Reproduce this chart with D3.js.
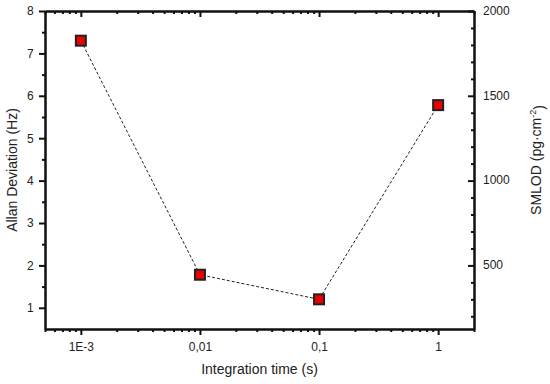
<meta charset="utf-8">
<body style="margin:0"></body>
<script src="https://d3js.org/d3.v7.min.js"></script>
<script>
// integration times and allan deviation values
var times = [0.001, 0.01, 0.1, 1];
var allanDev = [7.3, 1.78, 1.2, 5.78];
var xTickValues = [0.001, 0.01, 0.1, 1];
var xTickLabels = ["1E-3", "0,01", "0,1", "1"];
var yTicks = [1, 2, 3, 4, 5, 6, 7, 8];
var y2Ticks = [500, 1000, 1500, 2000];

var W = 550, H = 384;
var m = {left: 45, right: 76, top: 11, bottom: 55};

var svg = d3.select("body").append("svg")
  .attr("width", W).attr("height", H)
  .style("font-family", "'Liberation Sans', Arial, sans-serif");

var x = d3.scaleLog().domain([0.0005, 2]).range([m.left, W - m.right]);
var y = d3.scaleLinear().domain([0.5, 8]).range([H - m.bottom, m.top]);
var y2 = d3.scaleLinear().domain([125, 2000]).range([H - m.bottom, m.top]);

// minor ticks for log axis
var xMinor = [];
[0.0001, 0.001, 0.01, 0.1, 1].forEach(function(d) {
  for (var k = 2; k <= 9; k++) {
    var v = d * k;
    if (v >= 0.0005 && v <= 2) xMinor.push(v);
  }
});

function styleAxis(g) {
  g.selectAll("path, line").attr("stroke", "#111").attr("stroke-width", 2);
  g.selectAll("text").attr("font-size", 12).attr("fill", "#222");
}

// bottom axis
var gx = svg.append("g").attr("transform", "translate(0," + (H - m.bottom) + ")");
gx.call(d3.axisBottom(x).tickValues(xTickValues).tickSize(6).tickSizeOuter(0)
  .tickFormat(function(d, i) { return xTickLabels[i]; }));
gx.append("g").call(d3.axisBottom(x).tickValues(xMinor).tickSize(3).tickSizeOuter(0).tickFormat(""));
gx.selectAll("text").attr("dy", "1.1em");
styleAxis(gx);

// top axis (inward ticks)
var gt = svg.append("g").attr("transform", "translate(0," + m.top + ")");
gt.call(d3.axisBottom(x).tickValues(xTickValues).tickSize(6).tickSizeOuter(0).tickFormat(""));
gt.append("g").call(d3.axisBottom(x).tickValues(xMinor).tickSize(3).tickSizeOuter(0).tickFormat(""));
styleAxis(gt);

// left axis
var gy = svg.append("g").attr("transform", "translate(" + m.left + ",0)");
gy.call(d3.axisLeft(y).tickValues(yTicks).tickSize(6).tickSizeOuter(0).tickFormat(d3.format("d")));
gy.append("g").call(d3.axisLeft(y).tickValues(d3.range(1.5, 8, 1)).tickSize(3).tickSizeOuter(0).tickFormat(""));
gy.selectAll("text").attr("dx", "-0.2em");
styleAxis(gy);

// right axis (inward ticks, labels outside)
var gy2 = svg.append("g").attr("transform", "translate(" + (W - m.right) + ",0)");
gy2.call(d3.axisLeft(y2).tickValues(y2Ticks).tickSize(6).tickSizeOuter(0).tickFormat(""));
gy2.append("g").call(d3.axisLeft(y2).tickValues(d3.range(200, 2000, 100).filter(function(d) { return d % 500; }))
  .tickSize(3).tickSizeOuter(0).tickFormat(""));
styleAxis(gy2);
gy2.selectAll(".lbl").data(y2Ticks).enter().append("text")
  .attr("x", 9).attr("y", function(d) { return y2(d); }).attr("dy", "0.32em")
  .attr("text-anchor", "start")
  .attr("font-size", 12).attr("fill", "#222").text(String);

// axis titles
svg.append("text").attr("x", (m.left + W - m.right) / 2).attr("y", 374)
  .attr("text-anchor", "middle").attr("font-size", 14).attr("fill", "#222")
  .text("Integration time (s)");
svg.append("text").attr("transform", "translate(17," + ((m.top + H - m.bottom) / 2) + ") rotate(-90)")
  .attr("text-anchor", "middle").attr("font-size", 14).attr("fill", "#222")
  .text("Allan Deviation (Hz)");
var t2 = svg.append("text").attr("transform", "translate(541," + ((m.top + H - m.bottom) / 2 - 10) + ") rotate(-90)")
  .attr("text-anchor", "middle").attr("font-size", 14).attr("fill", "#222");
t2.append("tspan").text("SMLOD (pg·cm");
t2.append("tspan").attr("font-size", 9).attr("dy", "-0.6em").text("-2");
t2.append("tspan").attr("dy", "0.6em").text(")");

// data
var pts = times.map(function(t, i) { return [t, allanDev[i]]; });
svg.append("path").datum(pts)
  .attr("d", d3.line().x(function(d) { return x(d[0]); }).y(function(d) { return y(d[1]); }))
  .attr("fill", "none").attr("stroke", "#222").attr("stroke-width", 1)
  .attr("stroke-dasharray", "3,2");
svg.selectAll(".pt").data(pts).enter().append("rect")
  .attr("x", function(d) { return x(d[0]) - 5; })
  .attr("y", function(d) { return y(d[1]) - 5; })
  .attr("width", 10).attr("height", 10)
  .attr("fill", "#ee0000").attr("stroke", "#222").attr("stroke-width", 2);
</script>
